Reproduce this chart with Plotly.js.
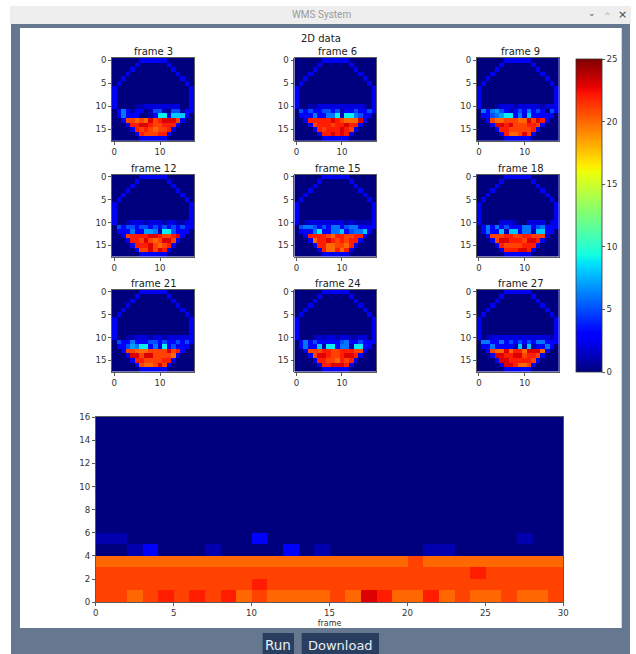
<!DOCTYPE html>
<html><head><meta charset="utf-8">
<script src="https://cdn.plot.ly/plotly-3.0.1.min.js"></script>
<style>html,body{margin:0;padding:0;background:#fff;overflow:hidden}</style></head>
<body><div id="chart" style="width:636px;height:654px"></div>
<script>
const frames = [3, 6, 9, 12, 15, 18, 21, 24, 27];
const shell = [
 [0,0,0,0,0,0,2.5,2.5,2.5,2.5,2.5,2.5,0,0,0,0,0,0],
 [0,0,0,0,0,2.5,0,0,0,0,0,0,2.5,0,0,0,0,0],
 [0,0,0,0,2.5,0,0,0,0,0,0,0,0,2.5,0,0,0,0],
 [0,0,0,2.5,0,0,0,0,0,0,0,0,0,0,2.5,0,0,0],
 [0,0,2.5,0,0,0,0,0,0,0,0,0,0,0,0,2.5,0,0],
 [0,2.5,0,0,0,0,0,0,0,0,0,0,0,0,0,0,2.5,0],
 [2.5,0,0,0,0,0,0,0,0,0,0,0,0,0,0,0,0,2.5],
 [2.5,0,0,0,0,0,0,0,0,0,0,0,0,0,0,0,0,2.5],
 [2.5,0,0,0,0,0,0,0,0,0,0,0,0,0,0,0,0,2.5],
 [2.5,0,0,0,0,0,0,0,0,0,0,0,0,0,0,0,0,2.5],
 [2.5,0,0,0,0,0,0,0,0,0,0,0,0,0,0,0,0,2.5],
 [0,0,0,0,0,0,0,0,0,0,0,0,0,0,0,0,0,0],
 [0,0,0,0,0,0,0,0,0,0,0,0,0,0,0,0,0,0],
 [0,0,2.5,0,0,0,0,0,0,0,0,0,0,0,0,2.5,0,0],
 [0,0,0,2.5,0,0,0,0,0,0,0,0,0,0,2.5,0,0,0],
 [0,0,0,0,2.5,0,0,0,0,0,0,0,0,2.5,0,0,0,0],
 [0,0,0,0,0,2.5,0,0,0,0,0,0,2.5,0,0,0,0,0],
 [0,0,0,0,0,0,2.5,2.5,2.5,2.5,2.5,2.5,0,0,0,0,0,0]
];
// rows 10, 11, 12 of each frame
const rim3  = [[2.5,0,0,0,0,1,1,2,2,2,2,2,2,2,2,0,0,2.5],[0,3,6,3,1,3,3,0,1,5,5,1,0,5,5,1,3,3],[0,3,6,3,3,3,0,0,1,3,9,9,2,8,8,8,3,0]];
const rim6  = [[2.5,0,0,1,1,2,2,2,2,2,2,2,2,2,2,1,0,2.5],[0,5,3,5,3,3,5,5,3,5,1,3,3,5,3,3,5,3],[0,3,3,3,6,3,3,6,6,9,1,9,9,6,5,3,3,0]];
const rim9  = [[2.5,0,0,0,1,2,2,2,1,2,2,2,2,2,1,2,2,2.5],[0,6,3,6,7,5,3,1,3,5,3,6,3,5,3,0,5,3],[0,3,3,5,6,7,9,9,3,6,2,8,3,3,3,3,3,0]];
const rim12 = [[2.5,0,0,1,2,2,2,1,2,2,2,1,2,2,1,1,2,2.5],[0,5,3,5,5,3,5,5,3,5,3,5,3,5,3,5,3,3],[0,3,3,3,6,3,3,7,7,6,1,9,9,5,3,3,3,0]];
const rim15 = [[2.5,0,1,2,2,2,2,2,2,2,2,1,2,1,1,1,1,2.5],[0,5,6,6,5,3,5,3,6,6,3,5,6,6,3,3,3,3],[0,3,3,3,6,9,3,3,6,6,8,3,5,6,6,8,3,0]];
const rim18 = [[2.5,0,0,0,0,2,2,2,1,0,0,2,2,2,2,0,2,2.5],[0,3,6,3,6,3,5,3,3,3,6,6,3,5,6,3,3,3],[0,3,6,3,3,8,1,8,8,3,6,6,1,8,8,3,3,0]];
const rim21 = [[2.5,0,0,1,1,2,2,2,1,2,2,1,2,2,2,2,2,2.5],[0,5,3,3,6,3,3,3,5,5,3,5,3,3,5,3,5,3],[0,3,3,5,7,6,9,9,3,6,2,9,3,5,3,3,3,0]];
const rim24 = [[2.5,0,0,0,1,2,1,2,2,1,2,2,1,1,2,2,0,2.5],[0,3,6,3,5,3,3,3,3,3,5,6,3,3,5,3,3,3],[0,3,6,3,3,8,1,9,9,3,6,6,1,9,9,3,3,0]];
const rim27 = [[2.5,0,1,2,2,2,2,2,2,2,2,2,2,2,2,2,1,2.5],[0,6,6,3,3,6,3,5,3,5,3,5,3,6,6,3,3,3],[0,3,3,6,3,3,3,3,1,8,1,8,1,3,3,6,3,0]];
const rims = [rim3, rim6, rim9, rim12, rim15, rim18, rim21, rim24, rim27];
// hot rows 13 (cols 3-14), 14 (cols 4-13), 15 (cols 5-12), 16 (cols 6-11)
const hot3  = [[21,21,20,21,20,23,21,22,23,23,23,21],[22,22,23,23,22,21,21,22,22,22],[22,21,22,21,20,21,21,22],[22,21,21,21,22,22]];
const hot6  = [[22,22,22,22,22,23,22,21,20,20,20,23],[21,22,22,22,21,22,22,23,22,22],[22,21,22,22,22,23,22,21],[22,22,23,22,23,22]];
const hot9  = [[21,20,20,21,21,21,20,20,23,21,23,22],[23,23,22,23,21,21,21,22,22,21],[22,22,21,21,21,21,21,22],[22,20,20,21,23,21]];
const hot12 = [[21,22,22,22,22,23,23,22,21,21,22,23],[22,22,21,23,21,20,21,23,23,21],[22,22,22,23,21,20,21,22],[21,21,23,21,23,22]];
const hot15 = [[22,22,22,22,21,20,22,22,21,21,22,22],[20,22,22,23,22,21,22,21,22,22],[22,22,20,20,21,21,20,22],[22,20,20,22,20,22]];
const hot18 = [[21,21,21,22,22,21,21,22,22,21,21,21],[21,23,23,22,22,22,21,23,23,22],[22,21,21,21,21,22,22,22],[22,22,22,23,23,22]];
const hot21 = [[21,21,20,20,20,21,21,21,21,23,21,22],[23,23,21,23,23,21,21,21,21,20],[22,22,21,21,21,21,22,22],[21,20,20,21,23,21]];
const hot24 = [[21,21,21,22,22,21,21,22,22,22,21,21],[21,23,23,22,21,21,22,23,23,22],[22,22,21,21,20,22,21,22],[22,22,23,23,23,22]];
const hot27 = [[21,20,20,23,20,22,22,20,23,23,23,20],[23,23,22,22,23,23,21,22,22,21],[23,23,22,22,22,22,22,21],[23,23,22,20,20,21]];
const hots = [hot3, hot6, hot9, hot12, hot15, hot18, hot21, hot24, hot27];
// bottom panel, lowest row first
const strip0 = [21,21,20,21,22,21,22,21,22,20,21,20,20,20,20,21,20,23,22,20,20,22,20,21,20,20,21,20,20,21];
const strip1 = [21,21,21,21,21,21,21,21,21,21,22,21,21,21,21,21,21,21,21,21,21,21,21,21,21,21,21,21,21,21];
const strip2 = [21,21,21,21,21,21,21,21,21,21,21,21,21,21,21,21,21,21,21,21,21,21,21,21,22,21,21,21,21,21];
const strip3 = [20,20,20,20,20,20,20,20,20,20,20,20,20,20,20,20,20,20,20,20,21,20,20,20,20,20,20,20,20,20];
const strip4 = [0,0,1,3,0,0,0,1,0,0,0,0,3,0,1,0,0,0,0,0,0,1,1,0,0,0,0,0,0,0];
const strip5 = [1,1,0,0,0,0,0,0,0,0,3,0,0,0,0,0,0,0,0,0,0,0,0,0,0,0,0,1,0,0];
const stripEmpty = new Array(30).fill(0);
const strips = [strip0, strip1, strip2, strip3, strip4, strip5, stripEmpty, stripEmpty, stripEmpty, stripEmpty, stripEmpty, stripEmpty, stripEmpty, stripEmpty, stripEmpty, stripEmpty];
const colorbarTicks = [0, 5, 10, 15, 20, 25];
const smallYTicks = [0, 5, 10, 15];
const smallXTicks = [0, 10];
const stripXTicks = [0, 5, 10, 15, 20, 25, 30];
const stripYTicks = [0, 2, 4, 6, 8, 10, 12, 14, 16];

const W = 636, H = 654;
const fx = p => p / W, fy = p => 1 - p / H;
const FONT = '"DejaVu Sans", sans-serif';
const INK = '#333333';
const jet = [[0,'rgb(0,0,127)'],[0.11,'rgb(0,0,255)'],[0.125,'rgb(0,0,255)'],[0.34,'rgb(0,219,255)'],[0.35,'rgb(0,230,247)'],[0.375,'rgb(21,255,226)'],[0.64,'rgb(238,255,8)'],[0.65,'rgb(247,245,0)'],[0.66,'rgb(255,236,0)'],[0.89,'rgb(255,19,0)'],[0.91,'rgb(232,0,0)'],[1,'rgb(127,0,0)']];

function frameZ(i) {
  const z = shell.map(r => r.slice());
  rims[i].forEach((r, k) => { z[10 + k] = r.slice(); });
  hots[i].forEach((r, k) => { r.forEach((v, c) => { z[13 + k][3 + k + c] = v; }); });
  return z;
}
function note(text, x, y, size, color, family) {
  return {text, xref:'paper', yref:'paper', x:fx(x), y:fy(y), xanchor:'center', yanchor:'middle', showarrow:false, font:{family:family||FONT, size, color}};
}
const cols = [[112, 194.3], [294.3, 376], [476.7, 559]];
const rows = [[58, 140.7], [174.7, 256.7], [289.7, 371.7]];
const titleCenters = [153.5, 337.5, 520.5];
const tickfont = {family: FONT, size: 8.6, color: INK};
const axisBase = {showline: true, mirror: true, linecolor: INK, linewidth: 0.8, ticks: 'outside', ticklen: 3, tickwidth: 0.8, tickcolor: INK, showgrid: false, zeroline: false, tickfont};
const rect = (x0, x1, y0, y1, fillcolor) => ({type:'rect',xref:'paper',yref:'paper',layer:'below',x0:fx(x0),x1:fx(x1),y0:fy(y1),y1:fy(y0),fillcolor,line:{width:0}});
const layout = {
  width: W, height: H, margin: {l: 0, r: 0, t: 0, b: 0}, showlegend: false,
  paper_bgcolor: '#ffffff', plot_bgcolor: 'rgba(0,0,0,0)',
  coloraxis: {cmin: 0, cmax: 25, colorscale: jet, colorbar: {
    x: fx(576.3), xanchor: 'left', xpad: 0, ypad: 0, y: fy(372), yanchor: 'bottom',
    thicknessmode: 'pixels', thickness: 25.7, lenmode: 'pixels', len: 312.7,
    tickmode: 'array', tickvals: colorbarTicks, ticktext: colorbarTicks.map(String), ticks: 'outside', ticklen: 3, tickwidth: 0.8, tickcolor: INK,
    tickfont, outlinewidth: 0.8, outlinecolor: INK}},
  shapes: [
    rect(10, 631, 6, 24, '#eeeeee'),
    rect(11, 630, 24, 654, '#66788f'),
    rect(20, 621.7, 28, 628, '#ffffff'),
    rect(262.7, 294, 633, 654, '#2a3f5f'),
    rect(301.7, 379, 633, 654, '#2a3f5f')
  ],
  annotations: [
    note('WMS System', 321, 15, 10, '#9a9a9a', '"Roboto", sans-serif'),
    note('⌄', 592, 13, 9, '#555555'),
    note('^', 607, 16, 8, '#aaaaaa'),
    note('×', 622, 15, 11, '#444444'),
    note('2D data', 320.7, 39, 10, '#222222'),
    note('Run', 278.3, 645, 13.5, '#e8eef5'),
    note('Download', 340.3, 645, 13, '#e8eef5')
  ]
};
const data = [];
frames.forEach((f, i) => {
  const n = i + 1, c = cols[i % 3], r = rows[Math.floor(i / 3)];
  data.push({type:'heatmap', z:frameZ(i), x0:0, dx:1, y0:0, dy:1, coloraxis:'coloraxis', xaxis:'x'+n, yaxis:'y'+n, hoverinfo:'skip'});
  layout['xaxis'+n] = Object.assign({}, axisBase, {domain:[fx(c[0]),fx(c[1])], range:[-0.5,17.5], anchor:'y'+n, tickmode:'array', tickvals:smallXTicks});
  layout['yaxis'+n] = Object.assign({}, axisBase, {domain:[fy(r[1]),fy(r[0])], range:[17.5,-0.5], anchor:'x'+n, tickmode:'array', tickvals:smallYTicks});
  layout.annotations.push(note('frame '+f, titleCenters[i % 3], r[0]-6.5, 10, '#222222'));
});
data.push({type:'heatmap', z:strips, x0:0.5, dx:1, y0:0.5, dy:1, coloraxis:'coloraxis', xaxis:'x10', yaxis:'y10', hoverinfo:'skip'});
layout.xaxis10 = Object.assign({}, axisBase, {domain:[fx(95.7),fx(563.3)], range:[0,30], anchor:'y10', tickmode:'array', tickvals:stripXTicks, title:{text:'frame', font:{family:FONT,size:8,color:INK}, standoff:2}});
layout.yaxis10 = Object.assign({}, axisBase, {domain:[fy(602.3),fy(417)], range:[0,16], anchor:'x10', tickmode:'array', tickvals:stripYTicks});
Plotly.newPlot('chart', data, layout, {displayModeBar:false, staticPlot:true});
</script></body></html>
